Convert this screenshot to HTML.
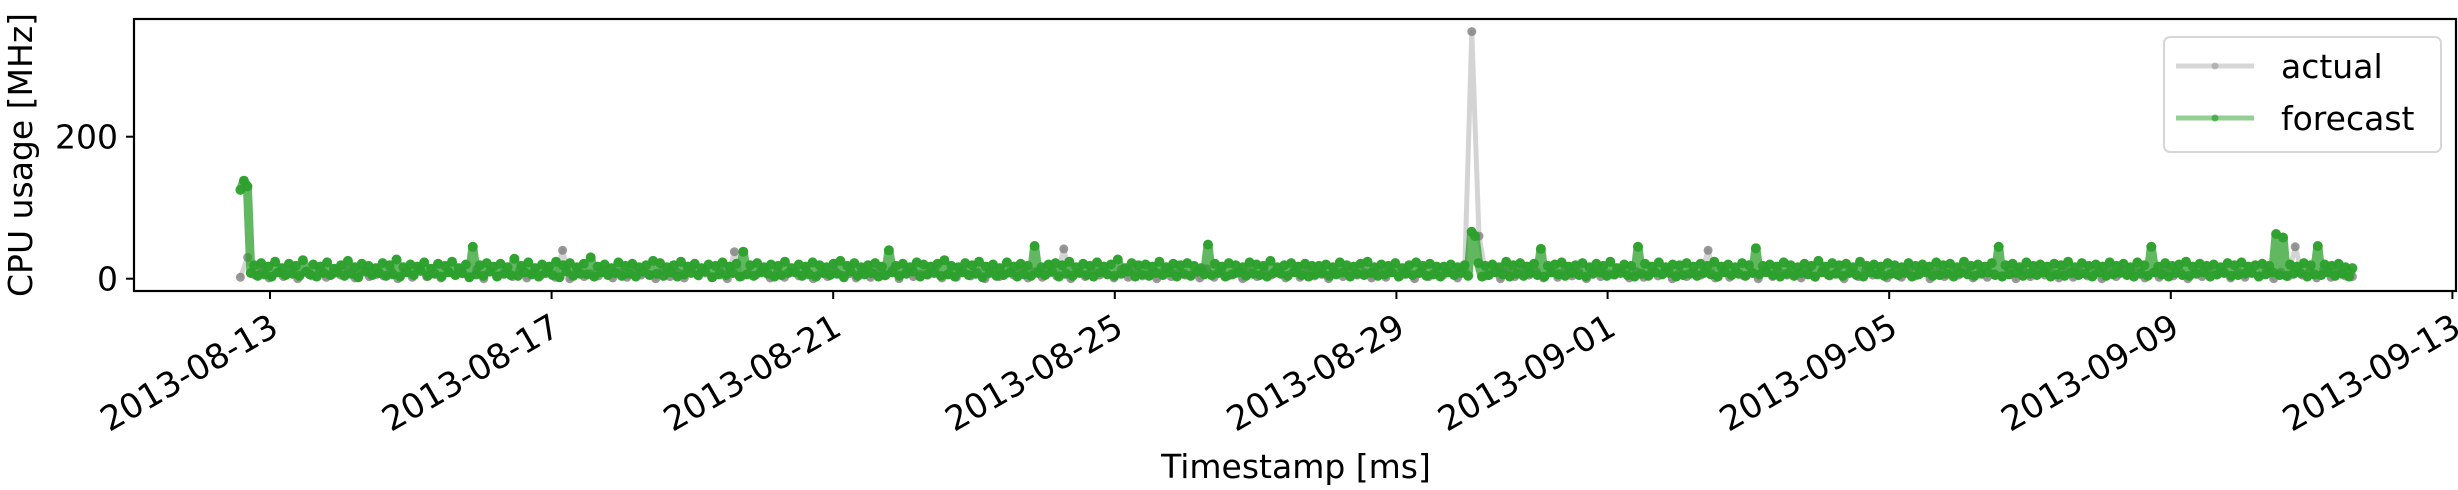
<!DOCTYPE html>
<html><head><meta charset="utf-8"><style>
html,body{margin:0;padding:0;background:#fff;}
svg{display:block;font-family:"DejaVu Sans","Liberation Sans",sans-serif;}
</style></head><body>
<svg id="chart" width="2458" height="490" viewBox="0 0 2458 490" xmlns="http://www.w3.org/2000/svg">
<g id="plot"></g>
<rect x="134" y="19" width="2322" height="272" fill="none" stroke="#000" stroke-width="2.2"/>
<g id="xaxis"></g>
<g id="yaxis"></g>
<text x="1296" y="478" font-size="33" text-anchor="middle">Timestamp [ms]</text>
<text transform="translate(32,155) rotate(-90)" font-size="33" text-anchor="middle">CPU usage [MHz]</text>
<g>
<rect x="2164" y="37" width="277" height="115" rx="6" fill="#fff" fill-opacity="0.8" stroke="#d6d6d6" stroke-width="2"/>
<g>
<line x1="2176" y1="66" x2="2254" y2="66" stroke="#bdbdbd" stroke-opacity="0.6" stroke-width="5"/>
<circle cx="2215" cy="66" r="3.5" fill="#999" fill-opacity="0.6"/>
<text x="2281" y="78" font-size="33">actual</text></g>
<g>
<line x1="2176" y1="118" x2="2254" y2="118" stroke="#2ca02c" stroke-opacity="0.5" stroke-width="5"/>
<circle cx="2215" cy="118" r="3.5" fill="#2ca02c" fill-opacity="0.7"/>
<text x="2281" y="130" font-size="33">forecast</text></g>
</g>
</svg>
<script>
const xTickLabels=["2013-08-13","2013-08-17","2013-08-21","2013-08-25","2013-08-29","2013-09-01","2013-09-05","2013-09-09","2013-09-13"];
const xTickDays=[0,4,8,12,16,19,23,27,31];
const yTicks=[0,200];
const seriesStartDay=-0.42;
const seriesEndDay=29.58;
const forecast=[125,138,130,8,19,4,22,6,17,3,24,9,15,5,21,7,18,4,26,10,
6,20,3,17,8,23,5,14,9,19,4,25,7,16,2,21,10,18,5,15,
8,22,4,19,6,27,3,16,9,20,5,17,11,23,4,14,7,21,3,18,
9,24,5,15,8,20,2,45,6,19,4,22,10,17,3,21,7,16,5,28,
4,18,9,23,6,15,3,20,8,17,5,24,2,19,10,22,4,16,7,21,
6,30,3,17,9,20,5,15,8,23,4,18,7,21,3,16,10,19,5,25,
7,22,4,16,9,19,3,24,6,17,8,21,5,15,10,20,2,18,6,23,
5,17,8,21,3,38,6,19,4,22,9,16,7,20,3,18,5,24,8,15,
9,20,4,17,6,23,3,19,8,16,5,21,7,25,2,18,10,22,4,16,
6,19,8,22,3,17,5,40,9,18,4,21,7,16,10,23,3,20,6,17,
8,21,4,26,6,18,3,16,9,22,5,19,7,24,2,17,8,20,4,15,
5,23,9,17,3,21,6,18,4,46,8,16,5,20,10,22,3,19,7,24,
4,16,8,21,5,18,3,23,9,17,6,20,4,27,7,15,10,22,3,19,
6,20,4,17,8,24,5,16,9,21,3,19,7,22,4,18,10,15,6,48,
5,21,8,17,3,22,6,19,9,16,4,23,7,20,5,18,3,25,8,16,
7,19,4,22,9,17,5,21,3,18,6,18,8,20,4,16,6,23,9,19,
3,17,7,21,5,24,8,16,4,20,6,18,9,22,3,15,7,19,5,23,
8,18,4,21,6,17,3,17,9,20,5,16,8,19,4,66,60,22,3,18,
5,20,9,16,6,24,3,19,7,22,4,17,8,21,5,42,3,18,9,20,
6,23,4,17,8,19,5,22,3,16,7,21,9,18,4,24,6,15,8,20,
5,18,3,45,7,21,4,17,9,23,6,16,8,20,3,19,5,22,7,17,
4,21,8,18,6,24,3,17,9,20,5,16,7,22,4,19,8,43,6,18,
9,20,5,17,3,23,7,19,4,16,8,21,6,18,3,25,9,17,5,22,
7,19,4,21,8,16,5,24,3,18,9,20,6,17,4,22,7,19,5,16,
8,22,3,18,6,20,9,17,4,23,5,19,7,21,3,16,8,24,6,18,
4,20,7,17,9,22,5,45,3,19,6,21,8,16,4,23,7,18,5,20,
9,17,3,21,6,19,4,24,8,16,5,22,7,18,3,20,9,17,4,23,
6,18,8,21,5,16,3,23,7,19,4,45,9,17,6,22,3,18,8,20,
5,24,4,17,7,21,9,18,3,20,6,16,8,22,4,19,5,23,7,17,
8,19,3,21,6,18,9,63,5,58,4,20,7,17,8,22,3,19,6,46,
5,20,9,18,4,21,7,16,3,15];
const actual=[2,30,5,12,1,8,3,14,0,9,4,11,2,7,5,13,1,10,3,6,
4,12,0,9,2,15,3,8,1,11,5,7,2,13,0,10,4,9,3,12,
1,8,5,14,2,40,0,11,3,7,4,13,1,9,2,10,5,6,0,12,
3,9,1,14,4,8,2,11,0,38,3,7,5,12,1,10,2,9,4,13,
0,8,3,11,5,7,1,14,2,9,4,12,0,10,3,6,5,13,1,8,
2,11,4,9,0,12,3,7,5,14,1,10,2,8,4,42,0,9,3,11,
5,7,1,13,2,10,4,8,0,12,3,9,5,6,1,14,2,11,4,7,
0,10,3,12,5,8,1,9,2,13,4,6,0,11,3,10,5,9,1,12,
2,9,4,7,0,13,3,10,5,8,1,11,348,60,4,9,0,12,3,14,
5,10,1,8,2,12,4,9,0,11,3,7,5,13,1,10,2,8,4,12,
0,9,3,11,5,40,1,13,2,10,4,8,0,12,3,9,5,7,1,11,
2,14,4,10,0,8,3,12,5,9,1,7,2,11,4,13,0,10,3,8,
5,12,1,9,2,7,4,11,0,13,3,10,5,8,1,12,2,9,4,7,
0,11,3,14,5,10,1,8,2,12,4,9,0,7,3,13,5,11,1,10,
2,8,4,12,0,9,3,45,5,11,1,13,2,10,4,3];
const NS="http://www.w3.org/2000/svg";
const X0=270,PXDAY=70.4,Y0=278.7,PXU=0.71;
function xScale(d){return X0+d*PXDAY;}
function yScale(v){return Y0-v*PXU;}
function mk(tag,attrs,parent){const e=document.createElementNS(NS,tag);for(const k in attrs)e.setAttribute(k,attrs[k]);parent.appendChild(e);return e;}
const plot=document.getElementById('plot');
function drawSeries(vals,name,lineColor,lineOp,lw,dotColor,dotOp,r){
  const g=mk('g',{},plot);
  
  
  const n=vals.length;
  const pts=vals.map((v,i)=>{const d=seriesStartDay+(seriesEndDay-seriesStartDay)*i/(n-1);return [xScale(d),yScale(v)];});
  const line=mk('polyline',{points:pts.map(p=>p[0].toFixed(1)+','+p[1].toFixed(1)).join(' '),fill:'none',stroke:lineColor,'stroke-opacity':lineOp,'stroke-width':lw,'stroke-linejoin':'round'},g);
  
  
  pts.forEach(p=>{const c=mk('circle',{cx:p[0].toFixed(1),cy:p[1].toFixed(1),r:r,fill:dotColor,'fill-opacity':dotOp},g);
    
    });
}
drawSeries(actual,'actual','#bdbdbd',0.65,5,'#808080',0.8,4.5);
drawSeries(forecast,'forecast','#2ca02c',0.75,9,'#2ca02c',0.95,5);
const xa=document.getElementById('xaxis');
xTickDays.forEach((d,i)=>{const x=xScale(d);
  const t=mk('line',{x1:x,y1:291,x2:x,y2:299,stroke:'#000','stroke-width':2},xa);
  
  
  const l=mk('text',{transform:'translate('+(x-2)+',312) rotate(-30)','font-size':34,'text-anchor':'end','dominant-baseline':'hanging'},xa);
  l.textContent=xTickLabels[i];
  
  });
const ya=document.getElementById('yaxis');
yTicks.forEach(v=>{const y=yScale(v);
  const t=mk('line',{x1:126,y1:y,x2:134,y2:y,stroke:'#000','stroke-width':2},ya);
  
  
  const l=mk('text',{x:118,y:y+12,'font-size':33,'text-anchor':'end'},ya);
  l.textContent=String(v);
  
  });
</script>
</body></html>
